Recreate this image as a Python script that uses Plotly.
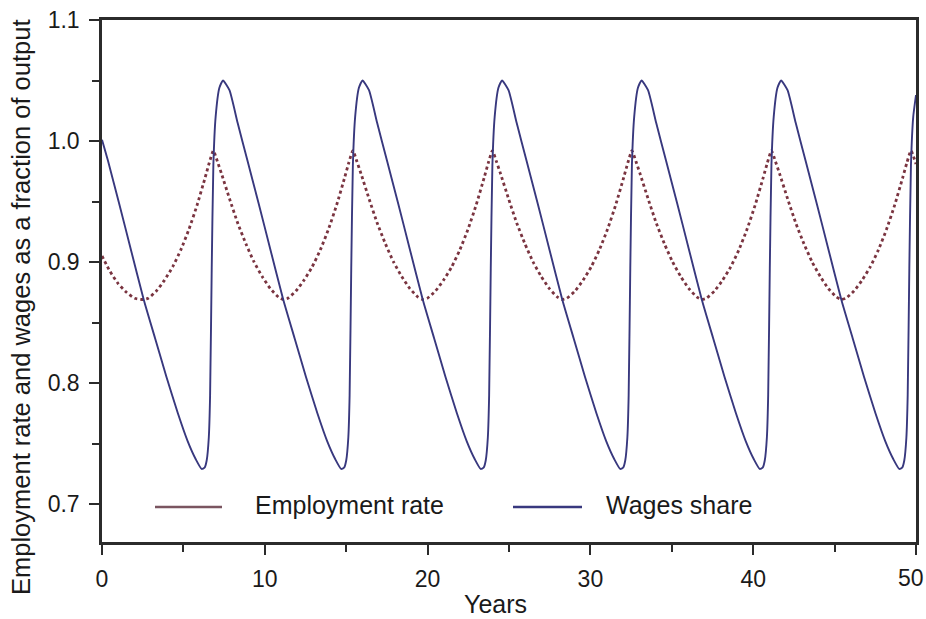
import plotly.graph_objects as go

# ---- data (years, fraction of output) ----
wage_years = [
    0.00, 0.36, 1.06, 1.76, 2.56, 3.26, 3.96, 4.66, 5.26, 5.76, 6.12, 6.30, 6.43, 6.56, 6.64, 6.74, 6.84, 6.98, 7.21,
    7.43, 7.83, 8.33, 8.93, 9.63, 10.33, 11.13, 11.83, 12.53, 13.23, 13.83, 14.33, 14.69, 14.87, 15.00, 15.13, 15.21, 15.31, 15.41, 15.55, 15.78,
    16.00, 16.40, 16.90, 17.50, 18.20, 18.90, 19.70, 20.40, 21.10, 21.80, 22.40, 22.90, 23.26, 23.44, 23.57, 23.70, 23.78, 23.88, 23.98, 24.12, 24.35,
    24.57, 24.97, 25.47, 26.07, 26.77, 27.47, 28.27, 28.97, 29.67, 30.37, 30.97, 31.47, 31.83, 32.01, 32.14, 32.27, 32.35, 32.45, 32.55, 32.69, 32.92,
    33.14, 33.54, 34.04, 34.64, 35.34, 36.04, 36.84, 37.54, 38.24, 38.94, 39.54, 40.04, 40.40, 40.58, 40.71, 40.84, 40.92, 41.02, 41.12, 41.26, 41.49,
    41.71, 42.11, 42.61, 43.21, 43.91, 44.61, 45.41, 46.11, 46.81, 47.51, 48.11, 48.61, 48.97, 49.15, 49.28, 49.41, 49.49, 49.59, 49.69, 49.83, 50.00,
]
wage_share = [
    1.001, 0.984, 0.948, 0.911, 0.869, 0.837, 0.805, 0.775, 0.752, 0.737, 0.729, 0.730, 0.736, 0.755, 0.790, 0.895, 0.980, 1.020, 1.044,
    1.050, 1.042, 1.015, 0.984, 0.948, 0.911, 0.869, 0.837, 0.805, 0.775, 0.752, 0.737, 0.729, 0.730, 0.736, 0.755, 0.790, 0.895, 0.980, 1.020, 1.044,
    1.050, 1.042, 1.015, 0.984, 0.948, 0.911, 0.869, 0.837, 0.805, 0.775, 0.752, 0.737, 0.729, 0.730, 0.736, 0.755, 0.790, 0.895, 0.980, 1.020, 1.044,
    1.050, 1.042, 1.015, 0.984, 0.948, 0.911, 0.869, 0.837, 0.805, 0.775, 0.752, 0.737, 0.729, 0.730, 0.736, 0.755, 0.790, 0.895, 0.980, 1.020, 1.044,
    1.050, 1.042, 1.015, 0.984, 0.948, 0.911, 0.869, 0.837, 0.805, 0.775, 0.752, 0.737, 0.729, 0.730, 0.736, 0.755, 0.790, 0.895, 0.980, 1.020, 1.044,
    1.050, 1.042, 1.015, 0.984, 0.948, 0.911, 0.869, 0.837, 0.805, 0.775, 0.752, 0.737, 0.729, 0.730, 0.736, 0.755, 0.790, 0.895, 0.980, 1.020, 1.038,
]

employment_years = [
    0.00, 0.50, 1.00, 1.50, 2.00, 2.55, 2.84, 3.34, 3.84, 4.34, 4.84, 5.34, 5.84, 6.34, 6.59,
    6.84, 7.09, 7.34, 7.84, 8.34, 8.84, 9.34, 9.84, 10.34, 10.84, 11.13, 11.41, 11.91, 12.41, 12.91, 13.41, 13.91, 14.41, 14.91, 15.16,
    15.41, 15.66, 15.91, 16.41, 16.91, 17.41, 17.91, 18.41, 18.91, 19.41, 19.70, 19.98, 20.48, 20.98, 21.48, 21.98, 22.48, 22.98, 23.48, 23.73,
    23.98, 24.23, 24.48, 24.98, 25.48, 25.98, 26.48, 26.98, 27.48, 27.98, 28.27, 28.55, 29.05, 29.55, 30.05, 30.55, 31.05, 31.55, 32.05, 32.30,
    32.55, 32.80, 33.05, 33.55, 34.05, 34.55, 35.05, 35.55, 36.05, 36.55, 36.84, 37.12, 37.62, 38.12, 38.62, 39.12, 39.62, 40.12, 40.62, 40.87,
    41.12, 41.37, 41.62, 42.12, 42.62, 43.12, 43.62, 44.12, 44.62, 45.12, 45.41, 45.69, 46.19, 46.69, 47.19, 47.69, 48.19, 48.69, 49.19, 49.44,
    49.69, 50.00,
]
employment_rate = [
    0.905, 0.892, 0.882, 0.875, 0.870, 0.869, 0.870, 0.876, 0.885, 0.896, 0.910, 0.927, 0.947, 0.970, 0.982,
    0.992, 0.983, 0.973, 0.952, 0.932, 0.915, 0.900, 0.888, 0.878, 0.871, 0.869, 0.870, 0.876, 0.885, 0.896, 0.910, 0.927, 0.947, 0.970, 0.982,
    0.992, 0.983, 0.973, 0.952, 0.932, 0.915, 0.900, 0.888, 0.878, 0.871, 0.869, 0.870, 0.876, 0.885, 0.896, 0.910, 0.927, 0.947, 0.970, 0.982,
    0.992, 0.983, 0.973, 0.952, 0.932, 0.915, 0.900, 0.888, 0.878, 0.871, 0.869, 0.870, 0.876, 0.885, 0.896, 0.910, 0.927, 0.947, 0.970, 0.982,
    0.992, 0.983, 0.973, 0.952, 0.932, 0.915, 0.900, 0.888, 0.878, 0.871, 0.869, 0.870, 0.876, 0.885, 0.896, 0.910, 0.927, 0.947, 0.970, 0.982,
    0.992, 0.983, 0.973, 0.952, 0.932, 0.915, 0.900, 0.888, 0.878, 0.871, 0.869, 0.870, 0.876, 0.885, 0.896, 0.910, 0.927, 0.947, 0.970, 0.982,
    0.992, 0.981,
]

x_ticks = [0, 10, 20, 30, 40, 50]
x_tick_labels = ["0", "10", "20", "30", "40", "50"]
y_ticks = [0.7, 0.8, 0.9, 1.0, 1.1]
y_tick_labels = ["0.7", "0.8", "0.9", "1.0", "1.1"]
series_names = ["Employment rate", "Wages share"]

EMP_COLOR = "#7a3440"
WAGE_COLOR = "#38387e"
AXIS_COLOR = "#2b2b2b"
TEXT_COLOR = "#1a1a1a"
FONT = "Liberation Sans, Arial, sans-serif"

fig = go.Figure()
fig.add_trace(go.Scatter(
    x=employment_years, y=employment_rate, mode="lines", name=series_names[0],
    line=dict(color=EMP_COLOR, width=2.8, dash="dot", shape="spline", smoothing=0.5),
    showlegend=False,
))
fig.add_trace(go.Scatter(
    x=wage_years, y=wage_share, mode="lines", name=series_names[1],
    line=dict(color=WAGE_COLOR, width=1.9, shape="spline", smoothing=0.5),
    showlegend=False,
))

# plot area in pixels: x 102..916, y 20..542
L, R, T, B = 102, 916, 20, 542
W, H = 926, 619

def px(xp):
    return (xp - L) / (R - L)

def py(yp):
    return (B - yp) / (B - T)

# manual legend (long line samples as in the reference)
legend_items = [
    (155, 222, 253, series_names[0], "#7a5560"),
    (513, 582, 604, series_names[1], WAGE_COLOR),
]
shapes = []
annotations = []
for x0, x1, xt, label, col in legend_items:
    shapes.append(dict(type="line", xref="paper", yref="paper",
                       x0=px(x0), x1=px(x1), y0=py(507), y1=py(507),
                       line=dict(color=col, width=2.4)))
    annotations.append(dict(xref="paper", yref="paper", x=px(xt), y=py(505),
                            xanchor="left", yanchor="middle", showarrow=False,
                            text=label, font=dict(family=FONT, size=25, color=TEXT_COLOR)))

annotations.append(dict(xref="paper", yref="paper", x=px(21), y=py(307),
                        xanchor="center", yanchor="middle", showarrow=False, textangle=-90,
                        text="Employment rate and wages as a fraction of output",
                        font=dict(family=FONT, size=25.5, color=TEXT_COLOR)))
annotations.append(dict(xref="paper", yref="paper", x=px(495), y=py(604),
                        xanchor="center", yanchor="middle", showarrow=False,
                        text="Years", font=dict(family=FONT, size=25, color=TEXT_COLOR)))
# last x tick label sits against the right edge of the picture, as in the reference
annotations.append(dict(xref="x", yref="paper", x=x_ticks[-1], y=py(578),
                        xanchor="right", yanchor="middle", xshift=10, showarrow=False,
                        text=x_tick_labels[-1], font=dict(family=FONT, size=23, color=TEXT_COLOR)))

fig.update_layout(
    width=W, height=H, autosize=False,
    margin=dict(l=L, r=W - R, t=T, b=H - B, pad=0, autoexpand=False),
    paper_bgcolor="white", plot_bgcolor="white",
    font=dict(family=FONT, size=23, color=TEXT_COLOR),
    shapes=shapes, annotations=annotations,
    showlegend=False,
)
fig.update_xaxes(
    range=[0, 50], tickvals=x_ticks, ticktext=x_tick_labels[:-1] + [""],
    ticks="outside", ticklen=10, tickwidth=2,
    tickcolor=AXIS_COLOR, showline=True, linecolor=AXIS_COLOR, linewidth=2.5, mirror=True,
    showgrid=False, zeroline=False, ticklabelstandoff=5, automargin=False,
    ticklabeloverflow="allow",
    minor=dict(dtick=5, ticks="outside", ticklen=7, tickwidth=2, tickcolor=AXIS_COLOR, showgrid=False),
)
fig.update_yaxes(
    range=[0.6686, 1.1], tickvals=y_ticks, ticktext=y_tick_labels, ticks="outside", ticklen=10,
    tickwidth=2, tickcolor=AXIS_COLOR, showline=True, linecolor=AXIS_COLOR, linewidth=2.5, mirror=True,
    showgrid=False, zeroline=False, ticklabelstandoff=5, automargin=False,
    ticklabeloverflow="allow",
    minor=dict(tickvals=[0.75, 0.85, 0.95, 1.05], ticks="outside", ticklen=7, tickwidth=2,
               tickcolor=AXIS_COLOR, showgrid=False),
)

fig.write_html("out.html", config={"displayModeBar": False},
               post_script="document.body.style.margin='0px';")
